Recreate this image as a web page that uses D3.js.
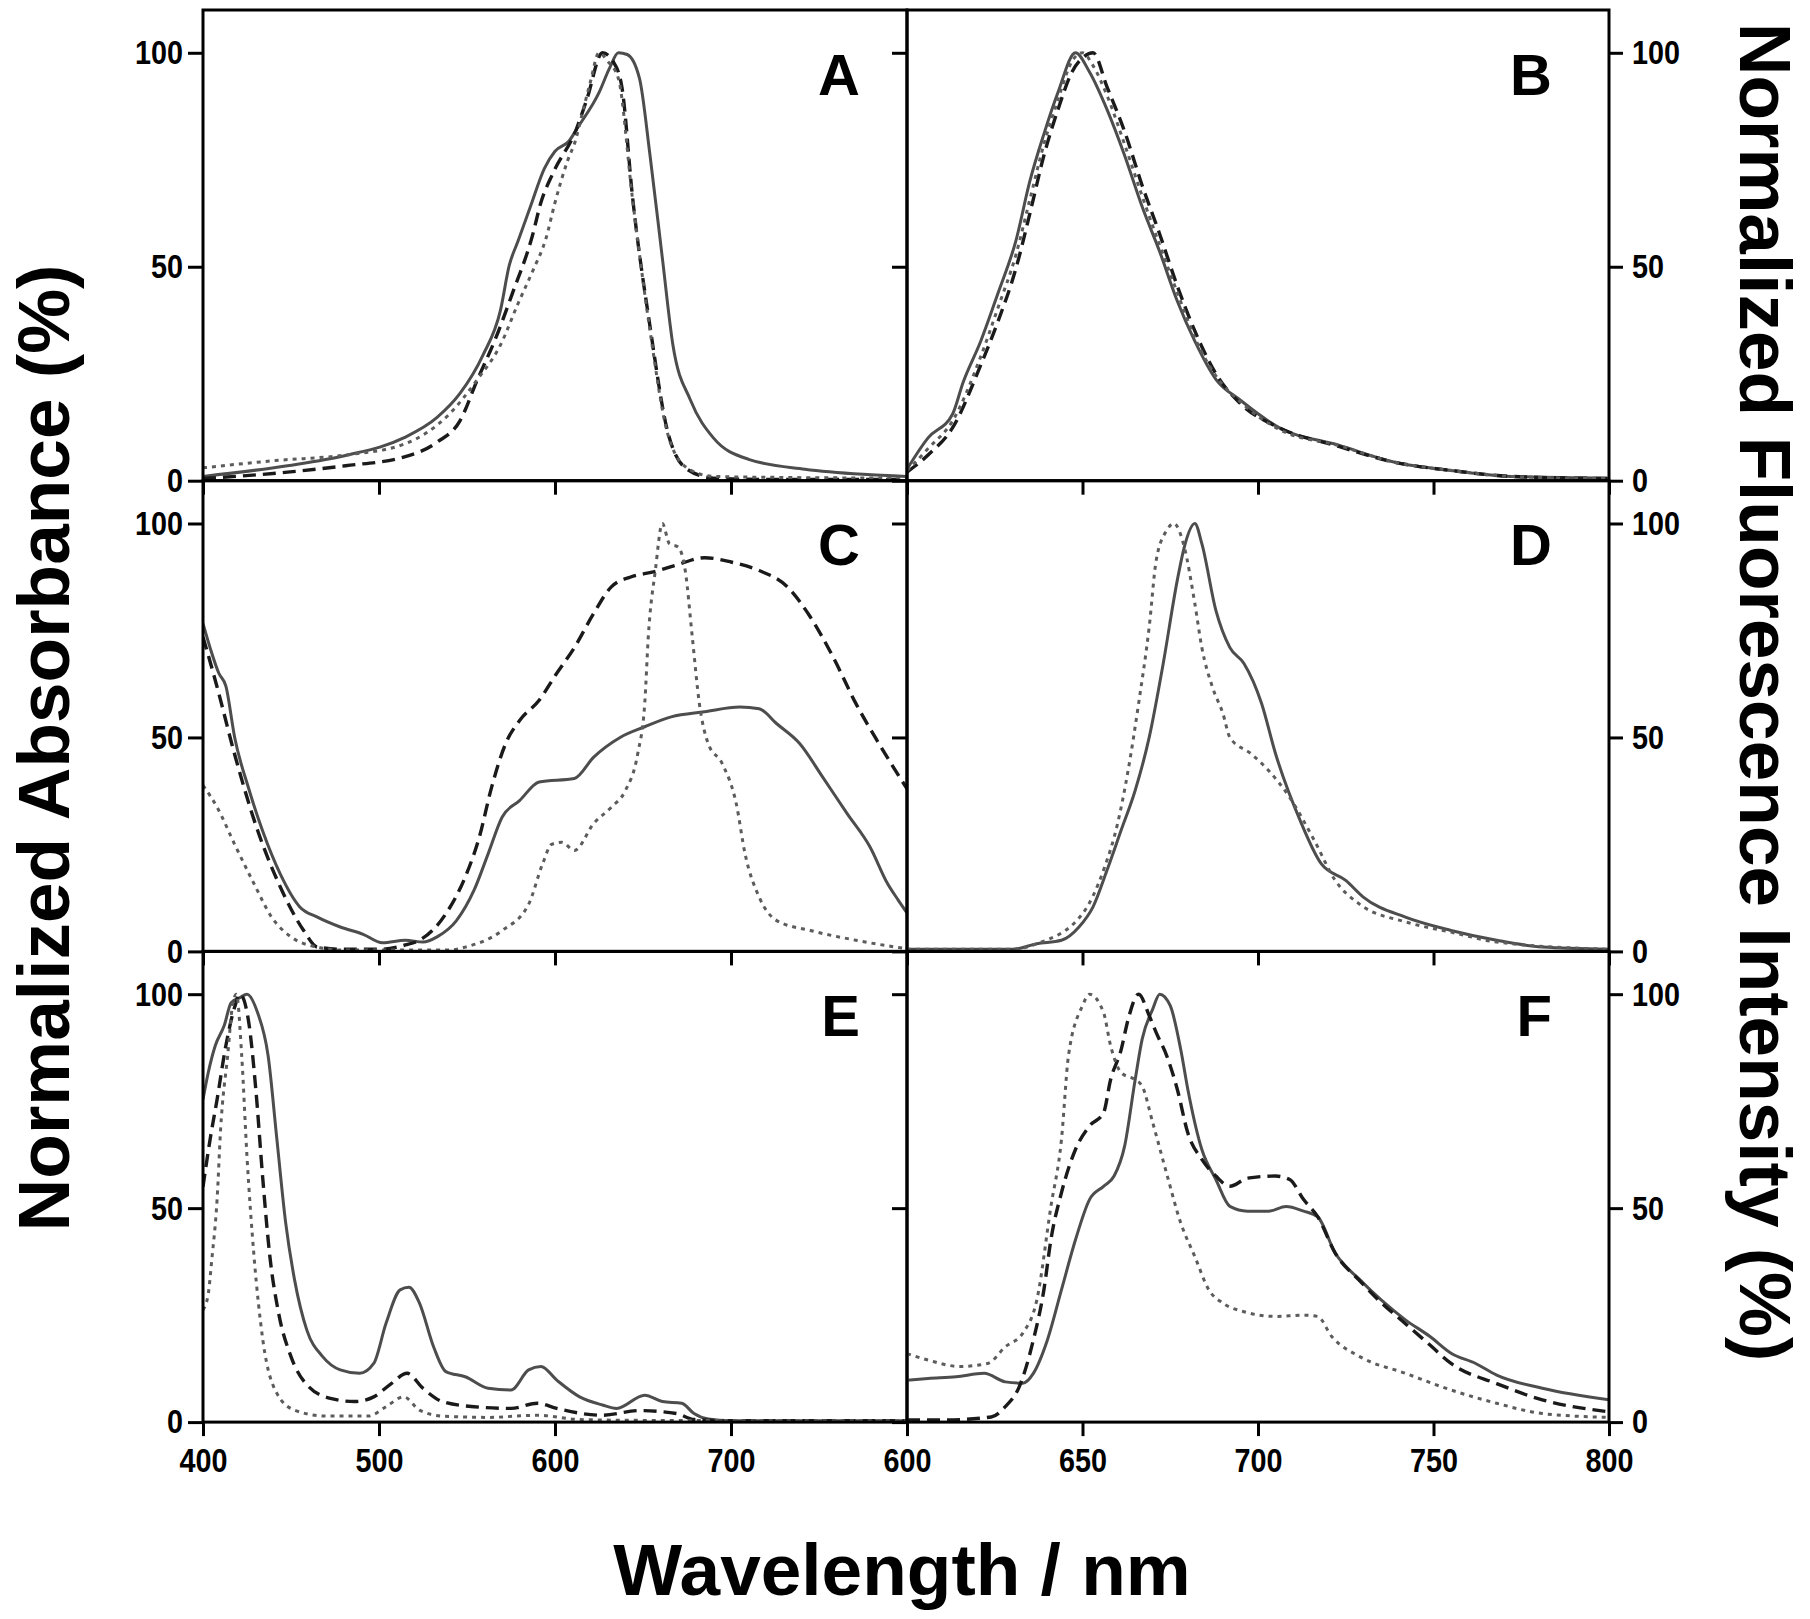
<!DOCTYPE html>
<html>
<head>
<meta charset="utf-8">
<script src="https://cdn.jsdelivr.net/npm/d3@7"></script>
<style>
  html, body { margin: 0; padding: 0; background: #fff; }
  svg { display: block; }
  .tick line { stroke: #000; stroke-width: 3; }
  .tick text { font-family: "Liberation Sans", Arial, sans-serif; font-weight: bold; font-size: 34px; fill: #000; }
  .axis-title { font-family: "Liberation Sans", Arial, sans-serif; font-weight: bold; font-size: 73px; fill: #000; }
  .panel-letter { font-family: "Liberation Sans", Arial, sans-serif; font-weight: bold; font-size: 58px; fill: #000; }
</style>
</head>
<body>
<div id="chart"></div>
<script>
// 6 panels: A/C/E absorbance (400-800 nm), B/D/F fluorescence (600-800 nm)
// each series = [wavelength nm, normalized %]

const aSolid = [[400,1],[448,3.5],[481,5.9],[514,10],[533,14.8],[546,20.4],[559,29.3],[569,39.8],[574,50.3],[579,56],[586,64],[594,73],[600,77],[608,79.4],[613,82.6],[625,90.7],[631,96.4],[636,100],[641,99.6],[648,94],[654,76],[661,52],[667,31.7],[677,18.8],[690,10],[710,5],[742,2.7],[775,1.5],[800,1]];
const aDashed = [[400,0.5],[448,2],[481,3.5],[514,5.5],[533,9],[546,14],[556,23.7],[566,33],[576,44],[587,57],[592,65],[599,72],[612,82],[618,89],[627,100],[633,98],[638,92],[644,66.5],[654,36],[664,11.5],[675,2.7],[690,0.6],[720,0.3],[800,0.3]];
const aDotted = [[400,3],[441,4.7],[481,6],[514,8.5],[540,15.6],[556,23.7],[569,31.7],[579,41.4],[587,48.7],[595,56.8],[600,65],[607,74.6],[612,80],[615,85],[620,93],[625,100],[630,98],[636,94],[644,66],[654,35],[664,11],[675,3],[690,1],[720,0.8],[800,0.6]];

const bSolid = [[600,2.7],[606,10],[613,15.6],[616,23],[621,32.6],[626,44],[631,56],[635,70],[639,81],[643,90.7],[648,100],[652,95.5],[657,86.7],[662,76],[667,64],[672,53.5],[677,42],[682,32.6],[688,23.7],[695,18.8],[706,12.4],[723,8.3],[739,4.3],[756,2.3],[772,1],[800,0.6]];
const bDashed = [[600,2],[606,6],[613,12.4],[621,27],[626,37.4],[631,49.5],[635,62.4],[639,76],[643,86.7],[647,95.5],[650,98.8],[653,100],[657,92],[662,81.6],[667,69],[672,57.6],[677,45.5],[682,35],[688,25],[695,18],[706,12.4],[723,8],[739,4.3],[756,2.3],[772,1],[800,0.5]];
const bDotted = [[600,2.3],[606,7.5],[613,14],[621,29],[626,40.6],[631,52.7],[635,65.7],[639,78.6],[643,89],[647,98],[650,100],[653,97],[657,90],[662,78.6],[667,66.5],[672,55],[677,44],[682,33.4],[688,24.5],[695,18.4],[706,12],[723,8.2],[739,4.3],[756,2.3],[772,1],[800,0.5]];

const cSolid = [[400,76.6],[404,71],[409,65],[413,62],[418,50],[426,38],[434,28],[444,18],[455,10.4],[465,8],[478,5.7],[491,4],[502,2],[515,2.6],[525,2.2],[533,3.4],[544,7.2],[554,14.3],[562,22.8],[570,31.4],[580,35.3],[591,39.6],[611,40.4],[622,45.4],[637,50],[651,52.5],[666,54.8],[685,56],[705,57.1],[716,56.7],[726,53.2],[739,48.6],[752,40.8],[766,32.2],[779,24.4],[789,15.8],[795,12],[800,9]];
const cDashed = [[400,73.5],[408,61.8],[418,46],[431,28.3],[444,15],[457,5],[465,1],[480,0.5],[500,0.5],[515,1.5],[523,2.6],[538,8.8],[549,17.4],[557,26.7],[564,38.4],[572,48.6],[580,54],[591,58.7],[601,65],[611,71],[622,79],[632,85.2],[643,87.5],[656,88.7],[669,90.3],[685,92],[700,91],[716,89],[732,85.2],[745,78.2],[758,68.8],[771,57.9],[784,48.6],[800,38]];
const cDotted = [[400,38.8],[408,33.7],[418,25],[429,15.8],[439,8],[450,3.4],[465,1],[480,0.3],[540,0.3],[549,1],[570,4.9],[585,11],[593,20.5],[598,25],[604,25.5],[611,23.6],[622,29.9],[632,33.7],[640,37.6],[647,46.2],[651,58],[653,73.5],[657,89],[661,100],[665,95.3],[670,94.5],[674,89],[678,73.5],[682,58],[687,48.6],[695,43.9],[703,34.5],[708,22.8],[716,12.7],[726,7.2],[745,4.9],[771,2.6],[800,0.6]];

const dSolid = [[600,0.5],[630,0.5],[637,1.8],[644,2.6],[649,5.7],[653,10.4],[657,19],[661,28.3],[665,37.6],[669,50],[673,67.3],[677,86.7],[679,94.5],[682,100],[684,95.3],[688,79.7],[692,71],[696,67.3],[701,58],[705,46.2],[712,30.6],[718,20.5],[725,16.6],[730,12.7],[742,8],[755,4.9],[768,2.6],[781,1],[800,0.5]];
const dDotted = [[600,0.5],[630,0.5],[637,1.8],[650,8.8],[656,19],[660,29.9],[663,42.3],[666,58],[669,75.8],[671,91.4],[674,98.4],[676,100],[679,94.5],[682,81.3],[684,71],[687,61.8],[690,55.6],[692,50],[698,46.2],[703,42.3],[709,36],[716,26],[722,16.6],[729,11],[742,6.9],[755,4.5],[768,2.2],[800,0.5]];

const eSolid = [[400,75.4],[403,81.7],[407,88],[412,92.6],[416,98],[421,99.2],[425,100],[431,95.7],[437,85.6],[442,66],[447,46.5],[452,33.3],[459,21.5],[468,15.3],[478,12.2],[489,11.4],[497,13.7],[504,23.1],[512,30.9],[517,31.5],[523,27.8],[531,17.6],[538,11.8],[549,10.6],[562,7.9],[575,7.5],[585,12.2],[592,13],[601,9.8],[614,5.9],[627,4],[635,3.2],[651,6.3],[661,4.8],[672,4.4],[679,2],[687,0.7],[700,0.3],[800,0.3]];
const eDashed = [[400,55],[404,66],[408,75.4],[413,88],[418,97],[421,100],[426,93.4],[430,77.8],[434,56.7],[438,38.7],[443,25.4],[450,15.3],[460,8.3],[473,5.5],[486,4.8],[497,5.9],[507,9],[516,11.4],[525,7.9],[536,4.8],[554,3.6],[575,3.2],[590,4.4],[601,3.2],[627,1.6],[648,2.7],[669,2],[679,0.6],[700,0.3],[800,0.3]];
const eDotted = [[400,26.2],[403,30],[405,38],[408,52],[410,68.4],[414,85.6],[417,98],[419,100],[422,85.6],[425,62],[429,38.7],[434,19.2],[442,6.7],[452,2.8],[470,1.4],[494,1.4],[504,3.6],[514,5.9],[523,2.8],[536,1.4],[562,1.1],[590,1.6],[614,0.6],[650,0.4],[800,0.3]];

const fSolid = [[600,9.8],[606,10.2],[614,10.6],[622,11.4],[628,9.4],[633,9.1],[636,11.4],[640,19.2],[644,30.9],[648,42.6],[652,52],[656,55.1],[659,57.5],[662,64.5],[665,80],[667,89.5],[670,96.5],[672,100],[675,97.3],[678,87],[680,77.8],[684,63.7],[688,56.7],[692,50.4],[697,49.3],[703,49.3],[708,50.4],[713,49.3],[717,48],[722,39.5],[729,33.3],[735,28.6],[742,23.9],[749,20],[755,16.1],[762,13.7],[768,11],[781,7.9],[800,5.2]];
const fDashed = [[600,0.5],[611,0.5],[624,1.2],[628,3.6],[632,8.3],[636,19.2],[639,30.9],[641,42.6],[644,53.6],[648,63.7],[652,69.2],[656,72.3],[658,80],[661,87],[663,94.1],[666,100],[669,95],[671,91],[674,85.6],[677,77.8],[680,67.6],[684,61.4],[688,57.5],[692,55.1],[697,57],[705,57.5],[709,56.7],[713,52],[717,48],[722,39.5],[729,33],[735,28],[742,23],[749,18],[755,13.7],[768,9],[781,5.2],[800,2.4]];
const fDotted = [[600,16],[606,14.5],[615,13],[623,13.7],[628,17.6],[633,20.8],[637,28.6],[641,50.4],[644,66],[646,85.6],[650,97.3],[652,100],[656,95.7],[658,88],[661,81.7],[665,80],[667,78.5],[670,70],[674,58],[678,46.5],[682,38.7],[686,30.9],[690,27.8],[696,25.8],[705,24.7],[713,25],[717,24.7],[721,20],[729,15.3],[742,11.4],[755,7.5],[768,4.4],[781,2],[800,1.1]];

const LEFT_DOMAIN = [400, 800];
const RIGHT_DOMAIN = [600, 800];
const Y_DOMAIN = [0, 110];
const Y_TICKS = [0, 50, 100];
const LEFT_X_TICKS = [400, 500, 600, 700];
const RIGHT_X_TICKS = [600, 650, 700, 750, 800];

const W = 1810, H = 1619;
const X0 = 203, XMID = 907, X1 = 1609;   // panel columns
const TOP = 10, ROW_H = 470.7;          // panel rows
const DIGIT_W = 16;                     // tick labels are narrow in the original

// line styles: solid gray, long dash black, short dot gray
const STYLES = {
  solid:  { stroke: "#4d4d4d", width: 3,   dash: null },
  dashed: { stroke: "#1a1a1a", width: 3.4, dash: "13,7" },
  dotted: { stroke: "#5c5c5c", width: 3,   dash: "4,5" },
};

const panels = [
  { letter: "A", col: 0, row: 0, series: [["solid", aSolid], ["dashed", aDashed], ["dotted", aDotted]] },
  { letter: "B", col: 1, row: 0, series: [["solid", bSolid], ["dashed", bDashed], ["dotted", bDotted]] },
  { letter: "C", col: 0, row: 1, series: [["solid", cSolid], ["dashed", cDashed], ["dotted", cDotted]] },
  { letter: "D", col: 1, row: 1, series: [["solid", dSolid], ["dotted", dDotted]] },
  { letter: "E", col: 0, row: 2, series: [["solid", eSolid], ["dashed", eDashed], ["dotted", eDotted]] },
  { letter: "F", col: 1, row: 2, series: [["solid", fSolid], ["dashed", fDashed], ["dotted", fDotted]] },
];

const svg = d3.select("#chart").append("svg")
  .attr("width", W).attr("height", H)
  .attr("viewBox", `0 0 ${W} ${H}`);

panels.forEach((p) => drawPanel(p));

// squeeze tick labels to the condensed look of the original
svg.selectAll(".tick text")
  .attr("textLength", function () { return this.textContent.length * DIGIT_W; })
  .attr("lengthAdjust", "spacingAndGlyphs");

// axis titles
svg.append("text")
  .attr("class", "axis-title")
  .attr("transform", `translate(69,748) rotate(-90)`)
  .attr("text-anchor", "middle")
  .text("Normalized Absorbance (%)");
svg.append("text")
  .attr("class", "axis-title")
  .attr("transform", `translate(1740,692) rotate(90)`)
  .attr("text-anchor", "middle")
  .text("Normalized Fluorescence Intensity (%)");
svg.append("text")
  .attr("class", "axis-title")
  .attr("x", 902).attr("y", 1595)
  .attr("text-anchor", "middle")
  .text("Wavelength / nm");

function drawPanel(p) {
  const left = p.col === 0;
  const xa = left ? X0 : XMID, xb = left ? XMID : X1;
  const top = TOP + p.row * ROW_H, bottom = top + ROW_H;
  const bottomRow = p.row === 2;

  const x = d3.scaleLinear().domain(left ? LEFT_DOMAIN : RIGHT_DOMAIN).range([xa, xb]);
  const y = d3.scaleLinear().domain(Y_DOMAIN).range([bottom, top]);

  const g = svg.append("g").attr("class", "panel panel-" + p.letter);

  const clipId = "clip-" + p.letter;
  g.append("clipPath").attr("id", clipId)
    .append("rect").attr("x", xa).attr("y", top).attr("width", xb - xa).attr("height", ROW_H);

  // curves
  const line = d3.line()
    .x((d) => x(d[0]))
    .y((d) => y(d[1]))
    .curve(d3.curveMonotoneX);
  const curves = g.append("g").attr("clip-path", `url(#${clipId})`);
  p.series.forEach(([kind, data]) => {
    const s = STYLES[kind];
    curves.append("path")
      .datum(data)
      .attr("d", line)
      .attr("fill", "none")
      .attr("stroke", s.stroke)
      .attr("stroke-width", s.width)
      .attr("stroke-dasharray", s.dash)
      .attr("stroke-linejoin", "round");
  });

  // y axis: left panels labelled on the left, right panels labelled on the right
  const yLeft = d3.axisLeft(y).tickValues(Y_TICKS).tickSize(15).tickPadding(5);
  const gyl = g.append("g").attr("transform", `translate(${xa},0)`).call(yLeft);
  if (!left) gyl.selectAll("text").remove();
  if (!left) {
    const yRight = d3.axisRight(y).tickValues(Y_TICKS).tickSize(14).tickPadding(9);
    g.append("g").attr("transform", `translate(${xb},0)`).call(yRight);
  }

  // x axis, ticks point down; labels only on the bottom row
  const xTicks = left ? LEFT_X_TICKS : RIGHT_X_TICKS;
  const xAxis = d3.axisBottom(x).tickValues(xTicks).tickSize(14).tickPadding(12);
  const gx = g.append("g").attr("transform", `translate(0,${bottom})`).call(xAxis);
  if (!bottomRow) gx.selectAll("text").remove();

  g.selectAll(".domain").remove();

  // frame
  g.append("rect")
    .attr("x", xa).attr("y", top)
    .attr("width", xb - xa).attr("height", ROW_H)
    .attr("fill", "none").attr("stroke", "#000").attr("stroke-width", 3);

  // panel letter
  g.append("text")
    .attr("class", "panel-letter")
    .attr("x", left ? 860 : 1552)
    .attr("y", y(100) + 42)
    .attr("text-anchor", "end")
    .text(p.letter);
}
</script>
</body>
</html>
